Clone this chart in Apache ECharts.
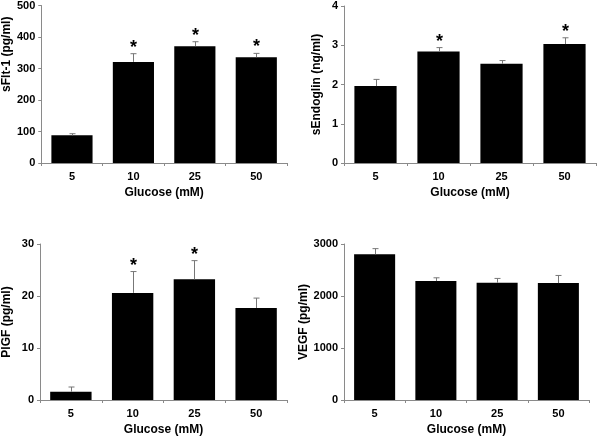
<!DOCTYPE html>
<html><head><meta charset="utf-8">
<script src="https://cdn.jsdelivr.net/npm/echarts@6/dist/echarts.min.js"></script>
<style>html,body{margin:0;padding:0;background:#fff}#c{width:600px;height:437px}</style>
</head><body><div id="c"></div>
<script>
var categories = ['5', '10', '25', '50'];
var xTitle = 'Glucose (mM)';

var sflt1Values = [88, 321, 371, 336];
var sflt1Errors = [5, 26, 14, 12];
var sflt1Sig = [false, true, true, true];

var sengValues = [1.96, 2.84, 2.53, 3.03];
var sengErrors = [0.17, 0.10, 0.08, 0.16];
var sengSig = [false, true, false, true];

var plgfValues = [1.6, 20.6, 23.2, 17.7];
var plgfErrors = [0.9, 4.1, 3.6, 1.9];
var plgfSig = [false, true, true, false];

var vegfValues = [2803, 2287, 2255, 2248];
var vegfErrors = [108, 63, 83, 147];
var vegfSig = [false, false, false, false];

var panels = [
  {title: 'sFlt-1 (pg/ml)', values: sflt1Values, errors: sflt1Errors, sig: sflt1Sig, max: 500, interval: 100,
   grid: {left: 40, top: 5, width: 247, height: 158}, nameGap: 28, namePad: [0, 0, 0, 60]},
  {title: 'sEndoglin (ng/ml)', values: sengValues, errors: sengErrors, sig: sengSig, max: 4, interval: 1,
   grid: {left: 344, top: 6, width: 252, height: 157}, nameGap: 21, namePad: 0},
  {title: 'PlGF (pg/ml)', values: plgfValues, errors: plgfErrors, sig: plgfSig, max: 30, interval: 10,
   grid: {left: 40, top: 244, width: 247, height: 157}, nameGap: 27, namePad: 0},
  {title: 'VEGF (pg/ml)', values: vegfValues, errors: vegfErrors, sig: vegfSig, max: 3000, interval: 1000,
   grid: {left: 344, top: 244, width: 245, height: 157}, nameGap: 33, namePad: 0}
];

var FONT = '"Liberation Sans", Arial, sans-serif';
var axisColor = '#8a8a8a';
var grids = [], xAxes = [], yAxes = [], series = [];
panels.forEach(function (p, i) {
  grids.push(p.grid);
  xAxes.push({
    type: 'category', gridIndex: i, data: categories,
    axisLine: {lineStyle: {color: axisColor, width: 1}},
    axisTick: {show: true, alignWithLabel: false, length: 3, lineStyle: {color: axisColor}},
    axisLabel: {color: '#000', fontFamily: FONT, fontWeight: 'bold', fontSize: 11, margin: 8},
    name: xTitle, nameLocation: 'middle', nameGap: 24,
    nameTextStyle: {color: '#000', fontFamily: FONT, fontWeight: 'bold', fontSize: 12}
  });
  yAxes.push({
    type: 'value', gridIndex: i, min: 0, max: p.max, interval: p.interval,
    axisLine: {show: true, lineStyle: {color: axisColor, width: 1}},
    axisTick: {show: true, length: 3, lineStyle: {color: axisColor}},
    splitLine: {show: false},
    axisLabel: {color: '#000', fontFamily: FONT, fontWeight: 'bold', fontSize: 11, margin: 6,
      formatter: function (v) { return String(v); }},
    name: p.title, nameLocation: 'middle', nameRotate: 90, nameGap: p.nameGap,
    nameTextStyle: {color: '#000', fontFamily: FONT, fontWeight: 'bold', fontSize: 12, padding: p.namePad}
  });
  series.push({
    type: 'bar', xAxisIndex: i, yAxisIndex: i, data: p.values,
    barWidth: '67%', itemStyle: {color: '#000'}, silent: true
  });
  var errData = p.values.map(function (v, k) { return [k, v, v + p.errors[k], p.sig[k] ? 1 : 0]; });
  series.push({
    type: 'custom', xAxisIndex: i, yAxisIndex: i, data: errData, silent: true, z: 3,
    renderItem: function (params, api) {
      var base = api.coord([api.value(0), api.value(1)]);
      var top = api.coord([api.value(0), api.value(2)]);
      var x = Math.round(base[0]) + 0.5;
      var children = [
        {type: 'line', shape: {x1: x, y1: base[1], x2: x, y2: top[1]}, style: {stroke: '#777', lineWidth: 1}},
        {type: 'line', shape: {x1: x - 3, y1: top[1], x2: x + 3, y2: top[1]}, style: {stroke: '#777', lineWidth: 1}}
      ];
      if (api.value(3)) {
        children.push({type: 'text', style: {text: '*', x: x, y: top[1] + 3, textAlign: 'center', textVerticalAlign: 'bottom',
          font: 'bold 18px ' + FONT, fill: '#000'}});
      }
      return {type: 'group', children: children};
    }
  });
});

var chart = echarts.init(document.getElementById('c'), null, {renderer: 'canvas'});
chart.setOption({
  backgroundColor: '#fff', animation: false,
  grid: grids, xAxis: xAxes, yAxis: yAxes, series: series
});
</script></body></html>
